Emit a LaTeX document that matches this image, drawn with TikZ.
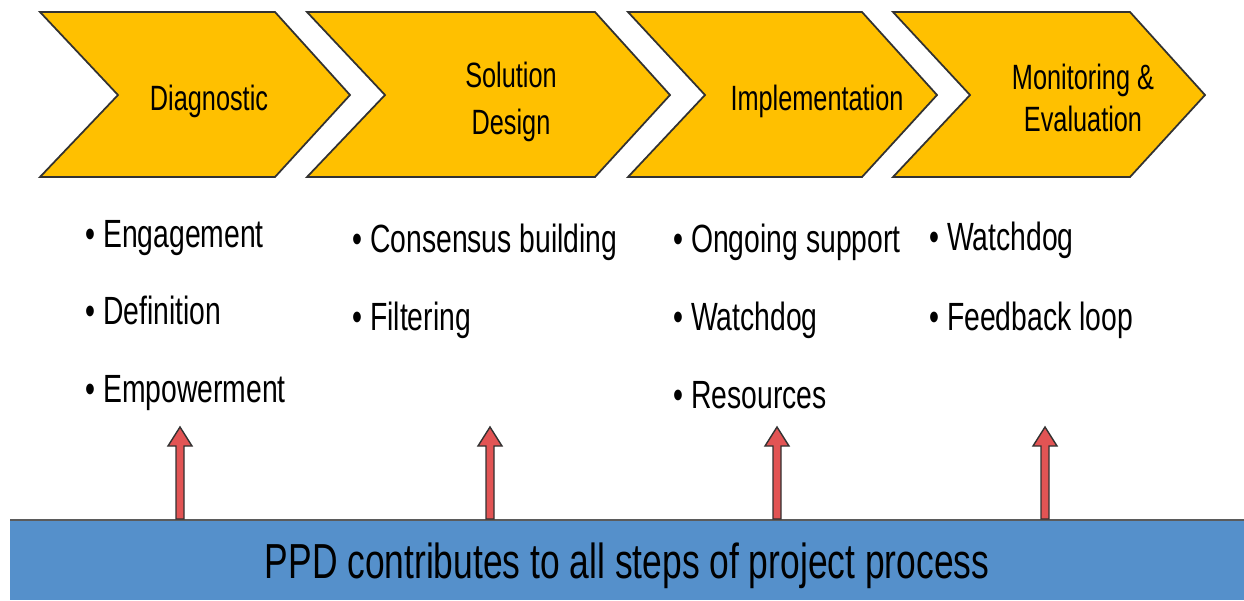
\documentclass[tikz,border=0pt]{standalone}
\usepackage{fontspec}
\setmainfont{Liberation Sans}[FakeStretch=0.72]
\definecolor{gold}{RGB}{255,192,0}
\definecolor{barblue}{RGB}{85,144,203}
\definecolor{arrred}{RGB}{226,84,84}
\definecolor{edge}{RGB}{50,50,50}
\begin{document}
\begin{tikzpicture}[x=0.02cm,y=-0.02cm,
  chev/.style={fill=gold,draw=edge,line width=1pt,line join=miter},
  lab/.style={align=center,font=\fontsize{20pt}{27pt}\selectfont,inner sep=0pt},
  item/.style={anchor=base west,font=\fontsize{22.4pt}{26pt}\selectfont,inner sep=0pt},
  blockarrow/.style={fill=arrred,draw=edge,line width=0.8pt,line join=miter}]
\useasboundingbox (0,0) rectangle (1244,600);
% chevrons
\draw[chev] (40,12) -- (275,12) -- (350,95) -- (275,177) -- (40,177) -- (118,95) -- cycle;
\draw[chev] (307,12) -- (595,12) -- (670,95) -- (595,177) -- (307,177) -- (385,95) -- cycle;
\draw[chev] (628,12) -- (862,12) -- (937,95) -- (862,177) -- (628,177) -- (705,95) -- cycle;
\draw[chev] (893,12) -- (1130,12) -- (1205,95) -- (1130,177) -- (893,177) -- (970,95) -- cycle;
\node[lab] (diag) at (209,101) {Diagnostic};
\node[lab] (sol) at (511,102) {Solution\\Design};
\node[lab,font=\fontsize{20pt}{24pt}\selectfont] (mon) at (1083,98) {Monitoring \&\\Evaluation};
\node[lab] (impl) at (817,101) {Implementation};
% bullet items
\node[item] (d1) at (85,247) {• Engagement};
\node[item] (d2) at (85,324) {• Definition};
\node[item] (d3) at (85,402) {• Empowerment};
\node[item] (s1) at (352,252) {• Consensus building};
\node[item] (s2) at (352,330) {• Filtering};
\node[item] (i1) at (673,252) {• Ongoing support};
\node[item] (i2) at (673,330) {• Watchdog};
\node[item] (i3) at (673,408) {• Resources};
\node[item] (m1) at (929,250) {• Watchdog};
\node[item] (m2) at (929,330) {• Feedback loop};
% bottom bar
\fill[barblue] (10,520) rectangle (1244,600);
\draw[edge!80,line width=1.5pt] (10,520) -- (1244,520);
\node[font=\fontsize{28pt}{32pt}\selectfont,inner sep=0pt] (ppd) at (627,566) {PPD contributes to all steps of project process};
% arrows
\foreach \x in {180,490,777,1045}{
  \draw[blockarrow] (\x-4,519) -- (\x-4,446) -- (\x-12,446) -- (\x,427) -- (\x+12,446) -- (\x+4,446) -- (\x+4,519) -- cycle;
}
\end{tikzpicture}
\end{document}
